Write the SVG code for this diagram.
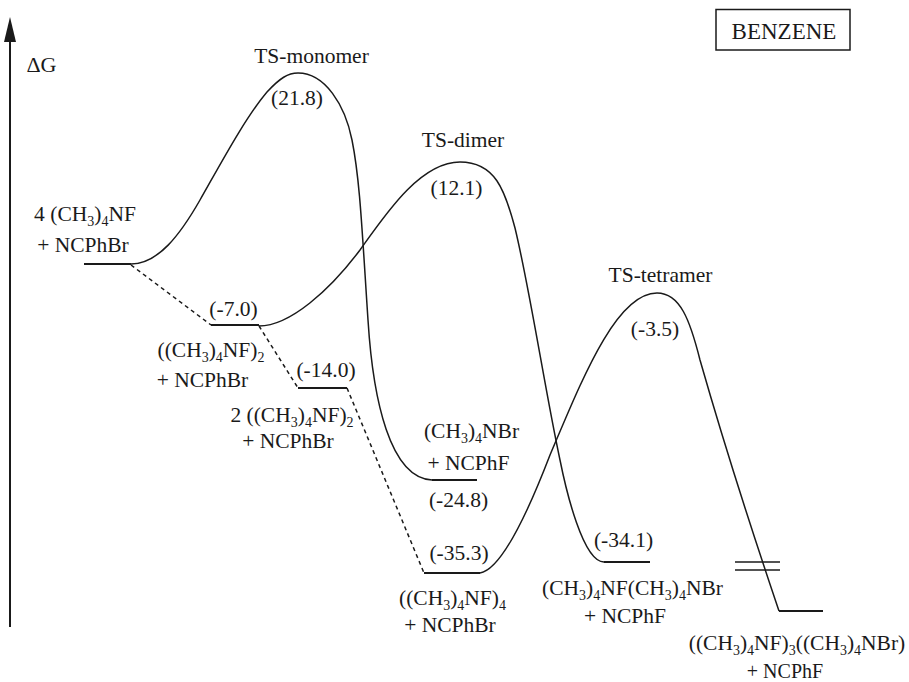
<svg xmlns="http://www.w3.org/2000/svg" width="909" height="682" viewBox="0 0 909 682">
<style>
text{font-family:'Liberation Serif','Times New Roman',Tinos,'Noto Serif','DejaVu Serif',serif;font-size:21.5px;fill:#1a1a1a;text-anchor:middle}
.sb{font-size:14px}
.lv{stroke:#1a1a1a;stroke-width:1.8;fill:none}
.cv{stroke:#1a1a1a;stroke-width:1.5;fill:none}
.ds{stroke:#1a1a1a;stroke-width:1.5;fill:none;stroke-dasharray:4 3.5}
</style>
<rect width="909" height="682" fill="#fff"/>
<g id="axis">
<line x1="10" y1="627" x2="10" y2="40" stroke="#1a1a1a" stroke-width="2"/>
<path d="M10,17 L16,42 L4,42 Z" fill="#1a1a1a"/>
<text x="41.5" y="72" style="font-size:22px">ΔG</text>
</g>
<g id="solvent">
<rect x="716" y="9.5" width="134" height="40.5" fill="none" stroke="#1a1a1a" stroke-width="1.5"/>
<text x="784" y="39" style="font-size:23px">BENZENE</text>
</g>
<g id="connectors">
<path class="cv" d="M131,264 C158,264 180,235 200,200 C220,165 245,118 267,92 C280,78 288,73 298,73 C325,73 345,105 352,140 C360,180 362,230 368,320 C373,400 390,478 432,480"/>
<path class="cv" d="M259,326 C290,326 330,290 360,250 C385,215 420,162 460,162 C495,162 505,190 515,228 C530,290 545,390 560,460 C566,490 583,562 604,562"/>
<path class="cv" d="M480,573 C500,570 525,520 550,455 C580,385 615,293 657,293 C680,293 690,320 700,360 C720,430 755,540 779,611"/>
<path class="ds" d="M131,265 L211,325"/>
<path class="ds" d="M259,326 L298,388"/>
<path class="ds" d="M347,388 L424,573"/>
<line class="cv" x1="735" y1="562" x2="780" y2="562"/>
<line class="cv" x1="735" y1="570" x2="780" y2="570"/>
</g>
<g id="reactant">
<line class="lv" x1="84" y1="264" x2="131" y2="264"/>
<text x="85" y="221">4 (CH<tspan class="sb" dy="5">3</tspan><tspan dy="-5">)</tspan><tspan class="sb" dy="5">4</tspan><tspan dy="-5">NF</tspan></text>
<text x="83" y="252">+ NCPhBr</text>
</g>
<g id="dimer">
<line class="lv" x1="211" y1="325" x2="259" y2="325"/>
<text x="233.5" y="316">(-7.0)</text>
<text x="211" y="357">((CH<tspan class="sb" dy="5">3</tspan><tspan dy="-5">)</tspan><tspan class="sb" dy="5">4</tspan><tspan dy="-5">NF)</tspan><tspan class="sb" dy="5">2</tspan></text>
<text x="202.5" y="387">+ NCPhBr</text>
</g>
<g id="two-dimer">
<line class="lv" x1="298" y1="388" x2="347" y2="388"/>
<text x="326" y="377">(-14.0)</text>
<text x="292" y="422">2 ((CH<tspan class="sb" dy="5">3</tspan><tspan dy="-5">)</tspan><tspan class="sb" dy="5">4</tspan><tspan dy="-5">NF)</tspan><tspan class="sb" dy="5">2</tspan></text>
<text x="288" y="448">+ NCPhBr</text>
</g>
<g id="ts-monomer">
<text x="311.5" y="63">TS-monomer</text>
<text x="297" y="105">(21.8)</text>
</g>
<g id="ts-dimer">
<text x="463" y="147">TS-dimer</text>
<text x="456.5" y="195">(12.1)</text>
</g>
<g id="ts-tetramer">
<text x="660.5" y="282">TS-tetramer</text>
<text x="655" y="336">(-3.5)</text>
</g>
<g id="product-monomer">
<line class="lv" x1="432" y1="480" x2="477" y2="480"/>
<text x="471.5" y="438">(CH<tspan class="sb" dy="5">3</tspan><tspan dy="-5">)</tspan><tspan class="sb" dy="5">4</tspan><tspan dy="-5">NBr</tspan></text>
<text x="468.5" y="470">+ NCPhF</text>
<text x="458.5" y="507">(-24.8)</text>
</g>
<g id="tetramer">
<line class="lv" x1="424" y1="573" x2="480" y2="573"/>
<text x="459" y="560">(-35.3)</text>
<text x="452.5" y="605">((CH<tspan class="sb" dy="5">3</tspan><tspan dy="-5">)</tspan><tspan class="sb" dy="5">4</tspan><tspan dy="-5">NF)</tspan><tspan class="sb" dy="5">4</tspan></text>
<text x="450" y="632">+ NCPhBr</text>
</g>
<g id="product-dimer">
<line class="lv" x1="604" y1="562" x2="650" y2="562"/>
<text x="623.5" y="547">(-34.1)</text>
<text x="632.5" y="595">(CH<tspan class="sb" dy="5">3</tspan><tspan dy="-5">)</tspan><tspan class="sb" dy="5">4</tspan><tspan dy="-5">NF(CH</tspan><tspan class="sb" dy="5">3</tspan><tspan dy="-5">)</tspan><tspan class="sb" dy="5">4</tspan><tspan dy="-5">NBr</tspan></text>
<text x="625" y="623">+ NCPhF</text>
</g>
<g id="product-tetramer">
<line class="lv" x1="779" y1="611" x2="823" y2="611"/>
<text x="797" y="650">((CH<tspan class="sb" dy="5">3</tspan><tspan dy="-5">)</tspan><tspan class="sb" dy="5">4</tspan><tspan dy="-5">NF)</tspan><tspan class="sb" dy="5">3</tspan><tspan dy="-5">((CH</tspan><tspan class="sb" dy="5">3</tspan><tspan dy="-5">)</tspan><tspan class="sb" dy="5">4</tspan><tspan dy="-5">NBr)</tspan></text>
<text x="785" y="678" style="font-size:20px">+ NCPhF</text>
</g>
</svg>
